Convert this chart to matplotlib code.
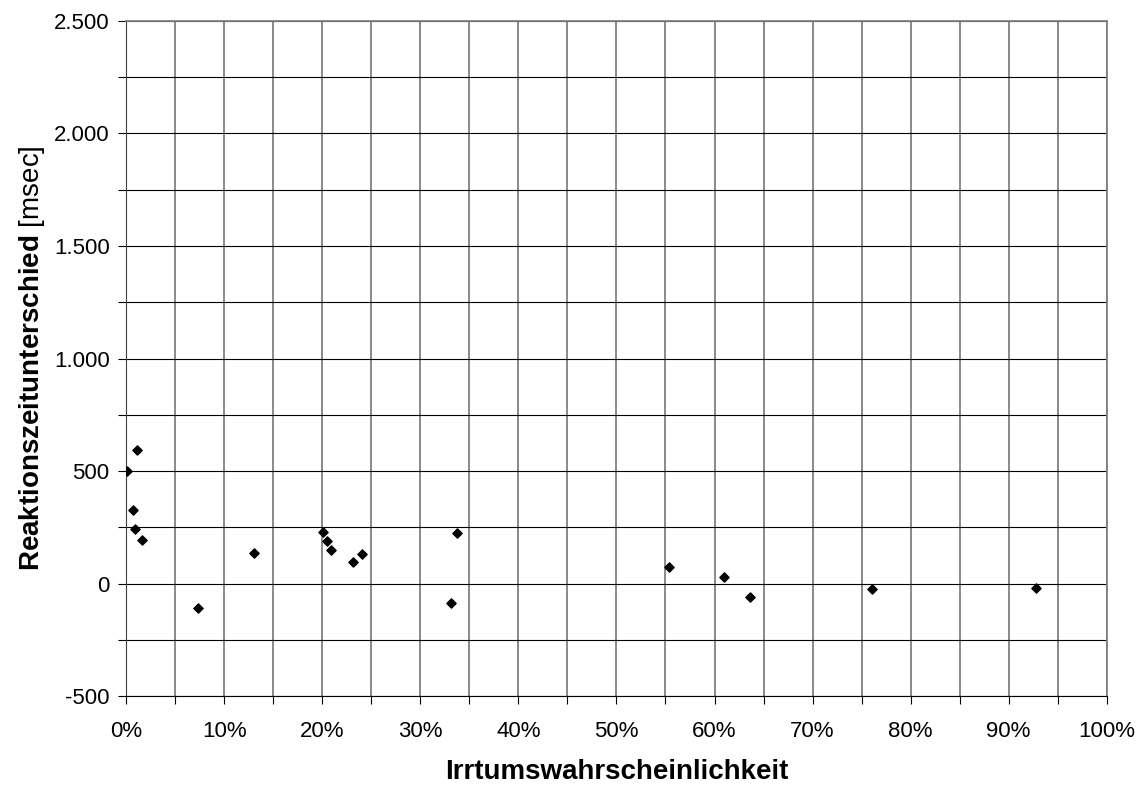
import matplotlib
matplotlib.use("Agg")
import matplotlib.pyplot as plt
from matplotlib.ticker import FuncFormatter, MultipleLocator

plt.rcParams['font.family'] = ['Liberation Sans', 'DejaVu Sans']
plt.rcParams['mathtext.fontset'] = 'custom'
plt.rcParams['mathtext.rm'] = 'Liberation Sans'
plt.rcParams['mathtext.bf'] = 'Liberation Sans:bold'

# Irrtumswahrscheinlichkeit (fraction) and Reaktionszeitunterschied (msec)
p_werte = [0.0012, 0.0114, 0.0066, 0.0087, 0.0161, 0.0727, 0.130, 0.2005, 0.205,
           0.2087, 0.2308, 0.2403, 0.337, 0.331, 0.5536, 0.6097, 0.636, 0.761, 0.928]
diff_ms = [499, 594, 326, 241, 194, -109, 138, 231, 190,
           150, 98, 130, 225, -84, 76, 30, -58, -22, -18]

fig = plt.figure(figsize=(11.48, 7.89), dpi=100)
ax = fig.add_axes([0.110, 0.1175, 0.854, 0.856])

ax.scatter(p_werte, diff_ms, marker='D', s=22, color='black', zorder=3)

ax.set_xlim(0, 1)
ax.set_ylim(-500, 2500)
ax.xaxis.set_major_locator(MultipleLocator(0.1))
ax.xaxis.set_minor_locator(MultipleLocator(0.05))
ax.yaxis.set_major_locator(MultipleLocator(500))
ax.yaxis.set_minor_locator(MultipleLocator(250))

ax.xaxis.set_major_formatter(FuncFormatter(lambda v, p: f"{v*100:.0f}%"))
ax.yaxis.set_major_formatter(FuncFormatter(lambda v, p: f"{v:,.0f}".replace(",", ".")))

ax.grid(True, which='both', axis='x', color='#808080', linewidth=1.3)
ax.grid(True, which='both', axis='y', color='black', linewidth=0.8)
ax.set_axisbelow(True)

ax.tick_params(which='both', direction='out', length=6, width=0.8, labelsize=16)
ax.tick_params(axis='y', pad=6)
ax.tick_params(axis='x', pad=12)

for s in ['top', 'right']:
    ax.spines[s].set_color('#808080')
    ax.spines[s].set_linewidth(1.3)
ax.spines['left'].set_color('#404040')
ax.spines['bottom'].set_color('black')

ax.set_xlabel("Irrtumswahrscheinlichkeit", fontsize=20, fontweight='bold', labelpad=12)
ax.set_ylabel(r"$\mathbf{Reaktionszeitunterschied}$ [msec]", fontsize=20, labelpad=5)

fig.savefig("out.png", dpi=100)
